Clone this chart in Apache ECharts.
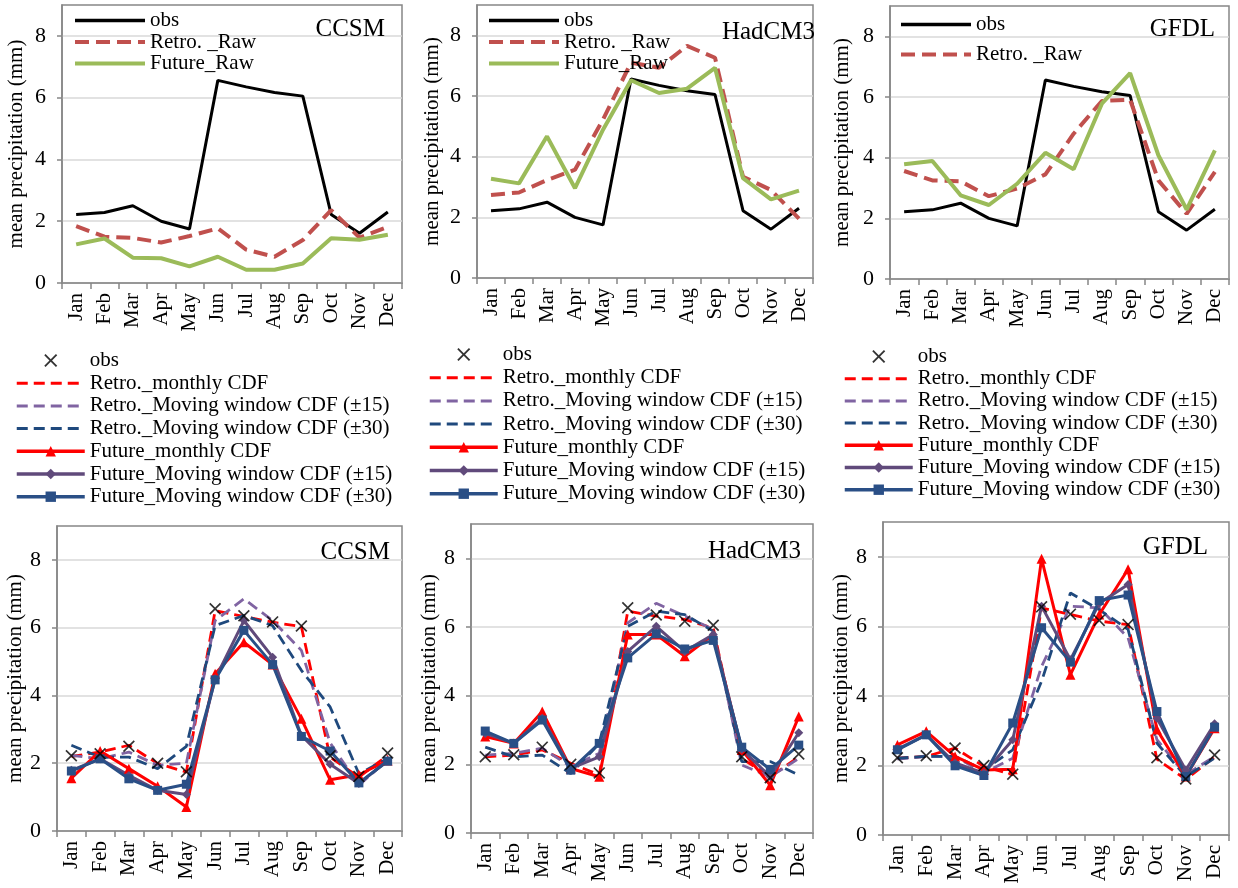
<!DOCTYPE html>
<html>
<head>
<meta charset="utf-8">
<script src="https://cdn.jsdelivr.net/npm/echarts@6/dist/echarts.min.js"></script>
<style>
  html, body { margin: 0; padding: 0; background: #fff; }
  #chart { width: 1238px; height: 888px; }
</style>
</head>
<body>
<div id="chart"></div>
<script>
// months on every x axis
const months = ["Jan", "Feb", "Mar", "Apr", "May", "Jun", "Jul", "Aug", "Sep", "Oct", "Nov", "Dec"];
const yTicks = [0, 2, 4, 6, 8];

// observed
const obs = [2.22, 2.28, 2.5, 2.0, 1.75, 6.56, 6.35, 6.17, 6.05, 2.22, 1.61, 2.3];

// top row: raw GCM output
const ccsmRetroRaw = [1.84, 1.5, 1.46, 1.31, 1.52, 1.77, 1.08, 0.85, 1.39, 2.36, 1.47, 1.82];
const ccsmFutureRaw = [1.25, 1.44, 0.82, 0.8, 0.54, 0.85, 0.43, 0.43, 0.63, 1.45, 1.4, 1.56];
const hadRetroRaw = [2.74, 2.82, 3.23, 3.57, 5.22, 7.1, 6.93, 7.65, 7.26, 3.34, 2.9, 1.96];
const hadFutureRaw = [3.27, 3.12, 4.67, 2.96, 4.89, 6.52, 6.1, 6.24, 6.93, 3.29, 2.59, 2.88];
const gfdlRetroRaw = [3.56, 3.25, 3.22, 2.73, 2.98, 3.45, 4.79, 5.87, 5.91, 3.25, 2.15, 3.53];
const gfdlFutureRaw = [3.78, 3.89, 2.76, 2.44, 3.14, 4.16, 3.62, 5.78, 6.79, 4.08, 2.29, 4.24];

// bottom row: bias corrected
const ccsmRetroMonthly = [2.2, 2.33, 2.53, 1.99, 1.74, 6.5, 6.33, 6.16, 6.03, 2.18, 1.59, 2.23];
const ccsmRetroMw15 = [2.23, 2.13, 2.33, 1.94, 2.0, 6.21, 6.85, 6.21, 5.33, 2.6, 1.35, 2.1];
const ccsmRetroMw30 = [2.53, 2.18, 2.18, 1.84, 2.5, 6.06, 6.36, 6.06, 4.74, 3.66, 1.69, 2.13];
const ccsmFutMonthly = [1.56, 2.36, 1.84, 1.32, 0.71, 4.64, 5.57, 4.91, 3.31, 1.51, 1.66, 2.08];
const ccsmFutMw15 = [1.79, 2.13, 1.64, 1.2, 1.08, 4.49, 6.21, 5.13, 2.82, 1.97, 1.4, 2.08];
const ccsmFutMw30 = [1.77, 2.13, 1.54, 1.2, 1.38, 4.46, 5.92, 4.91, 2.79, 2.36, 1.42, 2.06];

const hadRetroMonthly = [2.22, 2.27, 2.42, 2.03, 1.69, 6.46, 6.32, 6.22, 5.97, 2.17, 1.64, 2.22];
const hadRetroMw15 = [2.27, 2.32, 2.47, 1.93, 2.32, 6.12, 6.69, 6.32, 5.93, 1.98, 1.64, 2.17];
const hadRetroMw30 = [2.5, 2.22, 2.27, 1.73, 2.61, 6.02, 6.46, 6.36, 5.88, 2.08, 2.08, 1.69];
const hadFutMonthly = [2.81, 2.61, 3.54, 1.88, 1.64, 5.78, 5.78, 5.15, 5.78, 2.42, 1.39, 3.39];
const hadFutMw15 = [2.9, 2.61, 3.34, 1.88, 2.22, 5.29, 6.02, 5.29, 5.78, 2.44, 1.64, 2.92];
const hadFutMw30 = [2.97, 2.61, 3.29, 1.83, 2.61, 5.1, 5.8, 5.36, 5.61, 2.5, 1.85, 2.56];

const gfdlRetroMonthly = [2.21, 2.26, 2.5, 1.97, 1.73, 6.53, 6.34, 6.15, 6.05, 2.18, 1.6, 2.24];
const gfdlRetroMw15 = [2.18, 2.26, 2.26, 1.78, 2.21, 4.85, 6.58, 6.53, 5.67, 2.74, 1.73, 2.26];
const gfdlRetroMw30 = [2.21, 2.26, 2.26, 1.87, 2.45, 4.42, 6.96, 6.48, 5.91, 2.64, 1.68, 2.21];
const gfdlFutMonthly = [2.59, 2.98, 2.26, 1.87, 1.89, 7.94, 4.61, 6.34, 7.64, 3.03, 1.68, 3.07];
const gfdlFutMw15 = [2.47, 2.88, 2.07, 1.78, 2.74, 6.58, 5.04, 6.66, 7.2, 3.36, 1.87, 3.2];
const gfdlFutMw30 = [2.45, 2.88, 1.99, 1.71, 3.22, 5.96, 4.97, 6.74, 6.9, 3.55, 1.68, 3.1];

const FONT = "Liberation Serif";
const AXIS_GRAY = "#868686";
const crossPath = "path://M0,1L1,0L5,4L9,0L10,1L6,5L10,9L9,10L5,6L1,10L0,9L4,5Z";

const chart = echarts.init(document.getElementById("chart"));

const grids = [
  { left: 62, top: 5, width: 340, height: 278 },
  { left: 477, top: 5, width: 336, height: 273 },
  { left: 890, top: 6, width: 339, height: 273 },
  { left: 57, top: 526, width: 345, height: 305 },
  { left: 471, top: 524, width: 342, height: 309 },
  { left: 883, top: 522, width: 346, height: 313 }
];
const nameGaps = [35, 34, 37, 30, 29, 30];

const xAxes = grids.map((g, i) => ({
  type: "category",
  gridIndex: i,
  data: months,
  boundaryGap: true,
  axisLine: { lineStyle: { color: AXIS_GRAY, width: 1.5 } },
  axisTick: { show: true, length: 6, lineStyle: { color: AXIS_GRAY, width: 1.5 } },
  axisLabel: { rotate: 90, interval: 0, margin: 10, color: "#000", fontSize: 21, fontFamily: FONT }
}));

const yAxes = grids.map((g, i) => ({
  type: "value",
  gridIndex: i,
  min: 0,
  max: 9,
  interval: 2,
  name: "mean precipitation (mm)",
  nameLocation: "middle",
  nameGap: nameGaps[i],
  nameTextStyle: { color: "#000", fontSize: 21, fontFamily: FONT },
  axisLine: { show: true, lineStyle: { color: AXIS_GRAY, width: 1.5 } },
  axisTick: { show: true, length: 5, customValues: yTicks, lineStyle: { color: AXIS_GRAY, width: 1.5 } },
  axisLabel: { customValues: yTicks, margin: 16, color: "#000", fontSize: 22, fontFamily: FONT },
  splitLine: { lineStyle: { color: "#D9D9D9", width: 1.5 } }
}));

function line(name, data, idx, color, width, dash, symbol, size) {
  return {
    name: name,
    type: "line",
    xAxisIndex: idx,
    yAxisIndex: idx,
    data: data,
    symbol: symbol || "none",
    symbolSize: size || 0,
    showSymbol: !!symbol,
    itemStyle: { color: color },
    lineStyle: { color: color, width: width, type: dash || "solid" },
    emphasis: { disabled: true },
    animation: false
  };
}

const series = [];
// top row
[[ccsmRetroRaw, ccsmFutureRaw], [hadRetroRaw, hadFutureRaw], [gfdlRetroRaw, gfdlFutureRaw]].forEach((d, i) => {
  series.push(line("obs", obs, i, "#000000", 3));
  series.push(line("Retro. _Raw", d[0], i, "#C0504D", 4, [14, 7]));
  series.push(line("Future_Raw", d[1], i, "#9BBB59", 4));
});
// bottom row
[
  [ccsmRetroMonthly, ccsmRetroMw15, ccsmRetroMw30, ccsmFutMonthly, ccsmFutMw15, ccsmFutMw30],
  [hadRetroMonthly, hadRetroMw15, hadRetroMw30, hadFutMonthly, hadFutMw15, hadFutMw30],
  [gfdlRetroMonthly, gfdlRetroMw15, gfdlRetroMw30, gfdlFutMonthly, gfdlFutMw15, gfdlFutMw30]
].forEach((d, k) => {
  const i = k + 3;
  series.push(line("Retro._monthly CDF", d[0], i, "#FF0000", 2.8, [11, 6]));
  series.push(line("Retro._Moving window CDF (\u00b115)", d[1], i, "#8064A2", 2.8, [11, 6]));
  series.push(line("Retro._Moving window CDF (\u00b130)", d[2], i, "#1F497D", 2.8, [11, 6]));
  series.push(line("Future_monthly CDF", d[3], i, "#FF0000", 3, null, "triangle", 10));
  series.push(line("Future_Moving window CDF (\u00b115)", d[4], i, "#604A7B", 3, null, "diamond", 9));
  series.push(line("Future_Moving window CDF (\u00b130)", d[5], i, "#2A4F86", 3, null, "rect", 9));
  series.push({
    name: "obsX",
    type: "scatter",
    xAxisIndex: i,
    yAxisIndex: i,
    data: obs,
    symbol: crossPath,
    symbolSize: 12,
    itemStyle: { color: "#000" },
    z: 5,
    emphasis: { disabled: true },
    animation: false
  });
});

// legend entries: lines without markers hide the marker in the icon
const plain = (n, w) => ({ name: n, itemStyle: { opacity: 0 }, lineStyle: { width: w } });
const marked = (n, w) => ({ name: n, lineStyle: { width: w } });

const bottomNames = [
  "obsX",
  plain("Retro._monthly CDF", 3),
  plain("Retro._Moving window CDF (\u00b115)", 3),
  plain("Retro._Moving window CDF (\u00b130)", 3),
  marked("Future_monthly CDF", 3.5),
  marked("Future_Moving window CDF (\u00b115)", 3.5),
  marked("Future_Moving window CDF (\u00b130)", 3.5)
];
const topNames = [plain("obs", 3.5), plain("Retro. _Raw", 4), plain("Future_Raw", 4)];

function legend(left, top, data, gap, width) {
  return {
    orient: "vertical",
    left: left,
    top: top,
    padding: 0,
    itemGap: gap,
    itemWidth: width,
    itemHeight: 13,
    selectedMode: false,
    data: data,
    formatter: n => (n === "obsX" ? "obs" : n),
    textStyle: { color: "#000", fontSize: 21, fontFamily: FONT, lineHeight: 21 }
  };
}

const legends = [
  legend(73, 10, topNames, 0.5, 70),
  legend(487, 10, topNames, 0.5, 70),
  legend(899, 14, topNames.slice(0, 2), 9, 70),
  legend(15, 350, bottomNames, 1.7, 68),
  legend(428, 344, bottomNames, 2.2, 68),
  legend(843, 346, bottomNames, 1.2, 68)
];

function title(text, right, top) {
  return {
    text: text,
    right: right,
    top: top,
    padding: 0,
    textStyle: { color: "#000", fontSize: 25, fontWeight: "normal", fontFamily: FONT }
  };
}

chart.setOption({
  backgroundColor: "#fff",
  animation: false,
  title: [
    title("CCSM", 853, 17),
    title("HadCM3", 423, 20),
    title("GFDL", 23, 17),
    title("CCSM", 848, 540),
    title("HadCM3", 437, 539),
    title("GFDL", 30, 535)
  ],
  legend: legends,
  grid: grids.map(g => Object.assign({ show: true, borderColor: AXIS_GRAY, borderWidth: 1.5, backgroundColor: "transparent" }, g)),
  xAxis: xAxes,
  yAxis: yAxes,
  series: series
});
</script>
</body>
</html>
